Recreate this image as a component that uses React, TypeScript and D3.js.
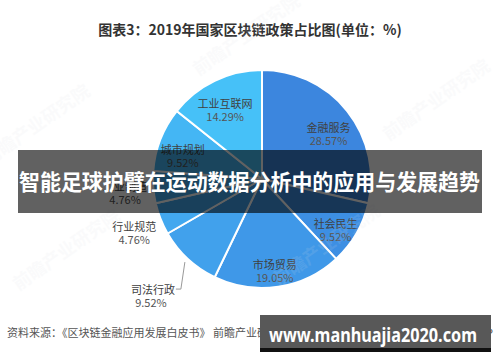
import * as d3 from "d3";

const categories = [
  "金融服务",
  "社会民生",
  "市场贸易",
  "司法行政",
  "行业规范",
  "工业制造",
  "城市规划",
  "工业互联网",
];
const shares = [28.57, 9.52, 19.05, 9.52, 4.76, 4.76, 9.52, 14.29];
const sliceColors = [
  "#3c86de",
  "#3d8fe3",
  "#3f98e8",
  "#41a1ec",
  "#42a8ef",
  "#43aef1",
  "#44b6f4",
  "#46c1f8",
];
// labels drawn outside the pie
const outsideLabels = ["行业规范", "工业制造"];
const leaderLabels = ["司法行政"];

const title = "图表3：2019年国家区块链政策占比图(单位：%)";
const source = "资料来源：《区块链金融应用发展白皮书》 前瞻产业研究院整理";
const credit = "@前瞻经济学人APP";
const bannerText = "智能足球护臂在运动数据分析中的应用与发展趋势";
const siteText = "www.manhuajia2020.com";

const W = 500;
const H = 362;
const cx = 262;
const cy = 179;
const R = 109;
const FONT = "'Noto Sans CJK SC', 'Noto Sans', sans-serif";

interface Slice {
  label: string;
  value: number;
  color: string;
}

const data: Slice[] = categories.map((c, i) => ({
  label: c,
  value: shares[i],
  color: sliceColors[i],
}));

export default function App() {
  const pie = d3
    .pie<Slice>()
    .sort(null)
    .value((d) => d.value);
  const arcs = pie(data);
  const arc = d3.arc<d3.PieArcDatum<Slice>>().innerRadius(0).outerRadius(R);
  const inArc = d3
    .arc<d3.PieArcDatum<Slice>>()
    .innerRadius(R * 0.78)
    .outerRadius(R * 0.78);
  const outArc = d3
    .arc<d3.PieArcDatum<Slice>>()
    .innerRadius(R * 1.26)
    .outerRadius(R * 1.26);
  const lineStart = d3
    .arc<d3.PieArcDatum<Slice>>()
    .innerRadius(R * 1.04)
    .outerRadius(R * 1.04);

  const watermarks = [
    [40, 130],
    [250, 40],
    [440, 105],
    [330, 250],
    [70, 255],
  ];

  return (
    <svg
      width={W}
      height={H}
      style={{ position: "absolute", left: 0, top: 0, background: "#fff" }}
      fontFamily={FONT}
    >
      <rect width={W} height={H} fill="#fff" />
      <text
        x={250}
        y={35}
        textAnchor="middle"
        fontSize={14}
        fontWeight="bold"
        fill="#333"
      >
        {title}
      </text>

      <g transform={`translate(${cx},${cy})`}>
        {arcs.map((d) => (
          <path
            key={d.data.label}
            d={arc(d) || ""}
            fill={d.data.color}
            stroke="#fff"
            strokeWidth={2}
          />
        ))}
        {arcs.map((d) => {
          const name = d.data.label;
          const pct = `${d.data.value.toFixed(2)}%`;
          if (leaderLabels.includes(name)) {
            const [x1, y1] = lineStart.centroid(d);
            const x2 = x1 - 4;
            const y2 = y1 + 27;
            const tx = x2 - 28;
            return (
              <g key={name}>
                <polyline
                  points={`${x1},${y1} ${x2},${y2} ${x2 - 5},${y2}`}
                  fill="none"
                  stroke="#999"
                  strokeWidth={1}
                />
                <text x={tx} y={y2 + 5} textAnchor="middle" fontSize={11} fill="#404040">
                  {name}
                </text>
                <text x={tx - 2} y={y2 + 18} textAnchor="middle" fontSize={11} fill="#555">
                  {pct}
                </text>
              </g>
            );
          }
          const outside = outsideLabels.includes(name);
          const [x, y] = outside ? outArc.centroid(d) : inArc.centroid(d);
          const dy = outside ? 2 : 6;
          return (
            <g key={name}>
              <text x={x} y={y + dy} textAnchor="middle" fontSize={11} fill="#404040">
                {name}
              </text>
              <text x={x} y={y + dy + 13} textAnchor="middle" fontSize={11} fill="#555">
                {pct}
              </text>
            </g>
          );
        })}
      </g>

      {watermarks.map(([x, y], i) => (
        <text
          key={i}
          x={x}
          y={y}
          transform={`rotate(-35 ${x} ${y})`}
          textAnchor="middle"
          fontSize={18}
          fontWeight="bold"
          fill="#d8dde3"
          opacity={0.12}
        >
          前瞻产业研究院
        </text>
      ))}

      <text x={7} y={337} fontSize={11} fill="#555">
        {source}
      </text>
      <text x={493} y={337} textAnchor="end" fontSize={11} fill="#555">
        {credit}
      </text>

      <rect x={18} y={150} width={464} height={63} fill="#000" opacity={0.62} />
      <text
        x={19}
        y={190}
        fontSize={22}
        fontWeight="bold"
        fill="#fff"
        textLength={461}
        lengthAdjust="spacingAndGlyphs"
      >
        {bannerText}
      </text>

      <rect x={260} y={315} width={231} height={34} fill="#585858" />
      <rect x={260} y={348} width={231} height={4} fill="#111" />
      <text
        x={269}
        y={342}
        fontSize={20}
        fontWeight="bold"
        fill="#fff"
        fontFamily="'Noto Sans', 'Open Sans', sans-serif"
        textLength={208}
        lengthAdjust="spacingAndGlyphs"
      >
        {siteText}
      </text>
    </svg>
  );
}
